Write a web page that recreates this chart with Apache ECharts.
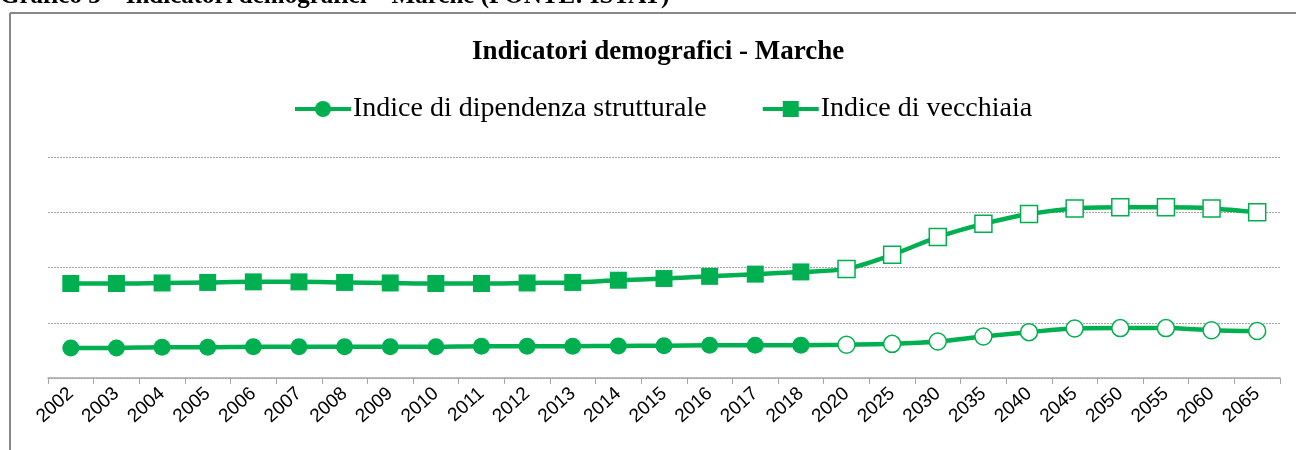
<!DOCTYPE html>
<html>
<head>
<meta charset="utf-8">
<script src="https://cdn.jsdelivr.net/npm/echarts@6/dist/echarts.min.js"></script>
<style>
  html, body { margin: 0; padding: 0; background: #fff; }
  #chart { width: 1296px; height: 450px; }
</style>
</head>
<body>
<div id="chart"></div>
<script>
const years = ['2002', '2003', '2004', '2005', '2006', '2007', '2008', '2009', '2010', '2011',
  '2012', '2013', '2014', '2015', '2016', '2017', '2018', '2020', '2025', '2030',
  '2035', '2040', '2045', '2050', '2055', '2060', '2065']
// indice di dipendenza strutturale
const dipendenza = [54.5, 54.5, 55.5, 55.5, 56.5, 56.5, 56.5, 56.5, 56.5, 57.5,
  57.5, 57.5, 58, 58.5, 59.3, 59.4, 59.5, 60.2, 61.8, 66,
  75, 83, 89.6, 90.3, 90.3, 86.5, 85]
// indice di vecchiaia
const vecchiaia = [171, 171, 172, 173, 174, 174, 173, 172, 171, 171,
  172, 173, 177, 180, 184, 188, 192, 197.5, 223, 255,
  279, 297, 307, 309, 309, 307, 300]
const firstProjection = '2020' // da qui in poi marker vuoti (previsioni)

const green = '#00B050'
const chart = echarts.init(document.getElementById('chart'))

const toPoints = (values) => values.map((v, i) => {
  if (years.indexOf(firstProjection) <= i) {
    return { value: v, itemStyle: { color: '#fff', borderColor: green, borderWidth: 1.5 } }
  }
  return v
})

const option = {
  backgroundColor: '#fff',
  animation: false,
  title: {
    text: 'Indicatori demografici - Marche',
    left: 467,
    top: 34,
    textStyle: { fontFamily: 'Liberation Serif', fontWeight: 'bold', fontSize: 27, color: '#000' }
  },
  legend: {
    top: 90,
    left: 288,
    itemWidth: 56,
    itemHeight: 20,
    itemGap: 54,
    lineStyle: { width: 4 },
    textStyle: { fontFamily: 'Liberation Serif', fontSize: 28, color: '#000', padding: [0, 0, 0, -3] },
    data: ['Indice di dipendenza strutturale', 'Indice di vecchiaia']
  },
  grid: { left: 48, right: 16, top: 157, bottom: 72 },
  xAxis: {
    type: 'category',
    data: years,
    boundaryGap: true,
    axisLine: { lineStyle: { color: '#A6A6A6', width: 1.5 } },
    axisTick: { show: true, length: 6, lineStyle: { color: '#A6A6A6' } },
    axisLabel: { rotate: 42, margin: 13, fontFamily: 'Liberation Sans', fontSize: 19, color: '#000' }
  },
  yAxis: {
    type: 'value',
    min: 0,
    max: 400,
    interval: 100,
    axisLabel: { show: false },
    axisLine: { show: false },
    axisTick: { show: false },
    splitLine: { lineStyle: { color: '#A6A6A6', type: [2, 1], width: 1 } }
  },
  series: [
    {
      name: 'Indice di dipendenza strutturale',
      type: 'line',
      data: toPoints(dipendenza),
      smooth: 0.3,
      symbol: 'circle',
      symbolSize: 17,
      itemStyle: { color: green },
      lineStyle: { color: green, width: 4.5 }
    },
    {
      name: 'Indice di vecchiaia',
      type: 'line',
      data: toPoints(vecchiaia),
      smooth: 0.3,
      symbol: 'rect',
      symbolSize: 17,
      itemStyle: { color: green },
      lineStyle: { color: green, width: 4.5 }
    }
  ],
  graphic: [
    // didascalia tagliata in alto
    {
      type: 'text', left: 0, top: -16,
      style: { text: 'Grafico 3 – Indicatori demografici – Marche (FONTE: ISTAT)', font: 'bold 25px Liberation Serif', fill: '#000' }
    },
    // cornice del grafico
    { type: 'line', shape: { x1: 10, y1: 13, x2: 1296, y2: 13 }, style: { stroke: '#888', lineWidth: 2 } },
    { type: 'line', shape: { x1: 10, y1: 13, x2: 10, y2: 450 }, style: { stroke: '#888', lineWidth: 2 } }
  ]
}

chart.setOption(option)
</script>
</body>
</html>
